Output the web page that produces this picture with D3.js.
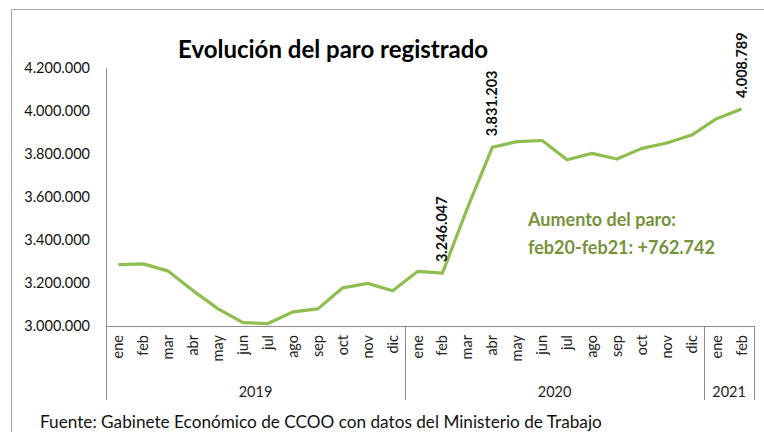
<!DOCTYPE html>
<html lang="es">
<head>
<meta charset="utf-8">
<title>Evolución del paro registrado</title>
<script src="https://d3js.org/d3.v7.min.js"></script>
<style>
  body { margin: 0; background: #fff; }
  text { font-family: Lato, "Open Sans", sans-serif; }
</style>
</head>
<body>
<div id="chart"></div>
<script>
// data
var months = ["ene","feb","mar","abr","may","jun","jul","ago","sep","oct","nov","dic",
              "ene","feb","mar","abr","may","jun","jul","ago","sep","oct","nov","dic",
              "ene","feb"];
var years = [
  {label: "2019", start: 0, end: 12},
  {label: "2020", start: 12, end: 24},
  {label: "2021", start: 24, end: 26}
];
var paro = [3285761, 3289040, 3255084, 3163566, 3079491, 3015686, 3011433, 3065804, 3079711, 3177659, 3198184, 3163605,
            3253853, 3246047, 3548312, 3831203, 3857776, 3862883, 3773034, 3802814, 3776485, 3826043, 3851312, 3888137,
            3964353, 4008789];
var yTicks = [3000000, 3200000, 3400000, 3600000, 3800000, 4000000, 4200000];
var labelled = [13, 15, 25];   // puntos con etiqueta de valor

var W = 764, H = 432;
var mLeft = 106, mRight = 754, mTop = 68, mBottom = 326;
var lineColor = "#8fbd4f", noteColor = "#76923c", axisColor = "#8c8c8c";

var fmt = function(v) { return d3.format(",")(v).replace(/,/g, "."); };

var svg = d3.select("#chart").append("svg")
    .attr("width", W)
    .attr("height", H);

// outer frame (only top and left visible)
svg.append("path")
    .attr("d", "M11.5," + H + "V9.5H" + W)
    .attr("fill", "none")
    .attr("stroke", "#a6a6a6")
    .attr("stroke-width", 1);

var x = d3.scaleBand()
    .domain(d3.range(months.length))
    .range([mLeft, mRight]);

var y = d3.scaleLinear()
    .domain([3000000, 4200000])
    .range([mBottom, mTop]);

// title
svg.append("text")
    .attr("x", 178)
    .attr("y", 58)
    .attr("font-size", 24)
    .attr("font-weight", "bold")
    .attr("fill", "#000")
    .text("Evolución del paro registrado");

// y axis
var yAxis = svg.append("g")
    .attr("transform", "translate(" + mLeft + ",0)")
    .call(d3.axisLeft(y).tickValues(yTicks).tickSize(0).tickPadding(16).tickFormat(fmt));
yAxis.select(".domain").attr("stroke", axisColor).attr("d", "M0.5," + mTop + "V" + mBottom);
yAxis.selectAll("text")
    .attr("font-family", "Lato, sans-serif")
    .attr("font-size", 14.5)
    .attr("fill", "#111");

// x axis baseline
svg.append("line")
    .attr("x1", mLeft).attr("x2", mRight)
    .attr("y1", mBottom + 0.5).attr("y2", mBottom + 0.5)
    .attr("stroke", axisColor);

// year separators
var seps = years.map(function(d) { return d.start; }).concat([months.length]);
svg.selectAll(".sep")
    .data(seps)
    .enter().append("line")
    .attr("class", "sep")
    .attr("x1", function(i) { return Math.round(i < months.length ? x(i) : mRight) + 0.5; })
    .attr("x2", function(i) { return Math.round(i < months.length ? x(i) : mRight) + 0.5; })
    .attr("y1", function(i) { return i === 0 ? mTop : mBottom; })
    .attr("y2", 400)
    .attr("stroke", axisColor);

// month labels
svg.selectAll(".month")
    .data(months)
    .enter().append("text")
    .attr("class", "month")
    .attr("transform", function(d, i) {
      return "translate(" + (x(i) + x.bandwidth() / 2 + 5) + "," + 335 + ") rotate(-90)";
    })
    .attr("text-anchor", "end")
    .attr("font-size", 14.5)
    .attr("fill", "#222")
    .text(function(d) { return d; });

// year labels
svg.selectAll(".year")
    .data(years)
    .enter().append("text")
    .attr("class", "year")
    .attr("x", function(d) { return (x(d.start) + (d.end < months.length ? x(d.end) : mRight)) / 2; })
    .attr("y", 397)
    .attr("text-anchor", "middle")
    .attr("font-size", 14.5)
    .attr("fill", "#222")
    .text(function(d) { return d.label; });

// line
var line = d3.line()
    .x(function(d, i) { return x(i) + x.bandwidth() / 2; })
    .y(function(d) { return y(d); });

svg.append("path")
    .datum(paro)
    .attr("d", line)
    .attr("fill", "none")
    .attr("stroke", lineColor)
    .attr("stroke-width", 3.2)
    .attr("stroke-linejoin", "round");

// value labels
svg.selectAll(".vlabel")
    .data(labelled)
    .enter().append("text")
    .attr("class", "vlabel")
    .attr("transform", function(i) {
      return "translate(" + (x(i) + x.bandwidth() / 2 + 5) + "," + (y(paro[i]) - 11) + ") rotate(-90)";
    })
    .attr("font-size", 14.5)
    .attr("font-weight", "bold")
    .attr("fill", "#111")
    .text(function(i) { return fmt(paro[i]); });

// annotation
var diff = paro[25] - paro[13];
var note = svg.append("text")
    .attr("font-size", 18)
    .attr("font-weight", "bold")
    .attr("fill", noteColor);
note.append("tspan").attr("x", 528).attr("y", 226).text("Aumento del paro:");
note.append("tspan").attr("x", 528).attr("y", 254).text("feb20-feb21: +" + fmt(diff));

// source
svg.append("text")
    .attr("x", 40)
    .attr("y", 428)
    .attr("font-size", 17.2)
    .attr("fill", "#111")
    .text("Fuente: Gabinete Económico de CCOO con datos del Ministerio de Trabajo");
</script>
</body>
</html>
